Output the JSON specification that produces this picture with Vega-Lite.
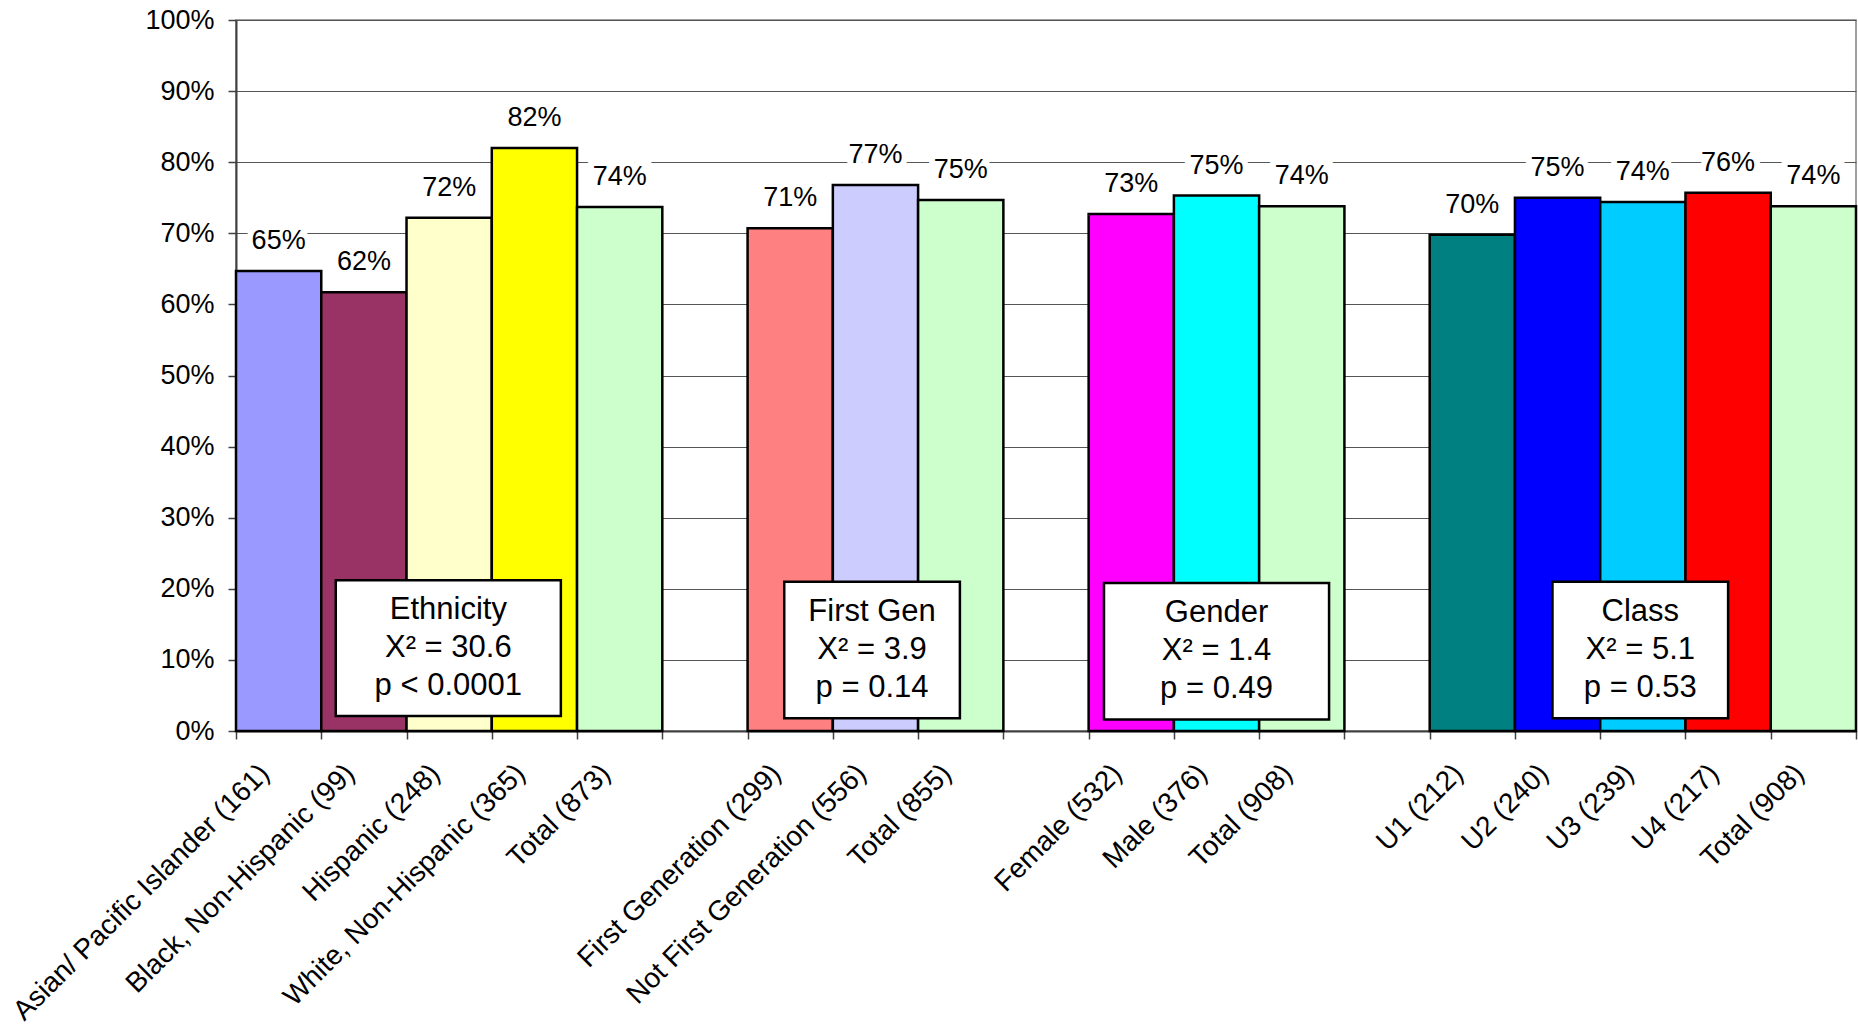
{
  "$schema": "https://vega.github.io/schema/vega-lite/v6.json",
  "width": 1620,
  "height": 711,
  "autosize": {"type": "none"},
  "padding": {"left": 236, "top": 20, "right": 2, "bottom": 295},
  "background": "white",
  "config": {"font": "Liberation Sans", "view": {"stroke": "#808080", "strokeWidth": 1.5}},
  "datasets": {
    "bars": [
      {"key": "Asian/ Pacific Islander (161)", "value": 0.647},
      {"key": "Black, Non-Hispanic (99)", "value": 0.617},
      {"key": "Hispanic (248)", "value": 0.722},
      {"key": "White, Non-Hispanic (365)", "value": 0.82},
      {"key": "Total (873)", "value": 0.737},
      {"key": "First Generation (299)", "value": 0.707},
      {"key": "Not First Generation (556)", "value": 0.768},
      {"key": "Total (855)", "value": 0.747},
      {"key": "Female (532)", "value": 0.727},
      {"key": "Male (376)", "value": 0.753},
      {"key": "Total (908)|g", "value": 0.738},
      {"key": "U1 (212)", "value": 0.698},
      {"key": "U2 (240)", "value": 0.75},
      {"key": "U3 (239)", "value": 0.744},
      {"key": "U4 (217)", "value": 0.757},
      {"key": "Total (908)|c", "value": 0.738}
    ],
    "boxes": [
      {"x1": 1.17, "x2": 3.81, "y1": 0.021, "y2": 0.212, "cx": 2.49, "cy": 0.1165, "label": "Ethnicity\nX² = 30.6\np < 0.0001"},
      {"x1": 6.43, "x2": 8.49, "y1": 0.018, "y2": 0.21, "cx": 7.46, "cy": 0.114, "label": "First Gen\nX² = 3.9\np = 0.14"},
      {"x1": 10.18, "x2": 12.82, "y1": 0.016, "y2": 0.208, "cx": 11.5, "cy": 0.112, "label": "Gender\nX² = 1.4\np = 0.49"},
      {"x1": 15.44, "x2": 17.5, "y1": 0.018, "y2": 0.21, "cx": 16.47, "cy": 0.114, "label": "Class\nX² = 5.1\np = 0.53"}
    ]
  },
  "layer": [
    {
      "data": {"name": "bars"},
      "encoding": {
        "x": {
          "field": "key",
          "type": "nominal",
          "sort": null,
          "scale": {
            "domain": ["Asian/ Pacific Islander (161)", "Black, Non-Hispanic (99)", "Hispanic (248)", "White, Non-Hispanic (365)", "Total (873)", "|1", "First Generation (299)", "Not First Generation (556)", "Total (855)", "|2", "Female (532)", "Male (376)", "Total (908)|g", "|3", "U1 (212)", "U2 (240)", "U3 (239)", "U4 (217)", "Total (908)|c"],
            "paddingInner": 0,
            "paddingOuter": 0
          },
          "axis": {
            "title": null,
            "labelAngle": -45,
            "labelAlign": "right",
            "labelBaseline": "middle",
            "labelFontSize": 28,
            "labelColor": "black",
            "labelPadding": 30,
            "labelOffset": -14,
            "labelLimit": 600,
            "labelOverlap": false,
            "tickBand": "extent",
            "ticks": true,
            "tickSize": 8,
            "tickColor": "#404040",
            "tickWidth": 1.5,
            "domainColor": "#404040",
            "domainWidth": 2,
            "grid": false,
            "labelExpr": "split(datum.label, '|')[0]"
          }
        },
        "y": {
          "field": "value",
          "type": "quantitative",
          "scale": {"domain": [0, 1]},
          "axis": {
            "title": null,
            "values": [0, 0.1, 0.2, 0.3, 0.4, 0.5, 0.6, 0.7, 0.8, 0.9, 1],
            "format": ".0%",
            "labelFontSize": 27,
            "labelColor": "black",
            "labelPadding": 14,
            "tickSize": 8,
            "tickColor": "#404040",
            "tickWidth": 1.5,
            "domainColor": "#404040",
            "domainWidth": 2,
            "grid": true,
            "gridColor": "#555555",
            "gridWidth": 1.2
          }
        }
      },
      "layer": [
        {
          "mark": {"type": "bar", "stroke": "black", "strokeWidth": 2.5},
          "encoding": {
            "color": {
              "field": "key",
              "type": "nominal",
              "legend": null,
              "scale": {
                "domain": ["Asian/ Pacific Islander (161)", "Black, Non-Hispanic (99)", "Hispanic (248)", "White, Non-Hispanic (365)", "Total (873)", "First Generation (299)", "Not First Generation (556)", "Total (855)", "Female (532)", "Male (376)", "Total (908)|g", "U1 (212)", "U2 (240)", "U3 (239)", "U4 (217)", "Total (908)|c"],
                "range": ["#9999FF", "#993366", "#FFFFCC", "#FFFF00", "#CCFFCC", "#FF8080", "#CCCCFF", "#CCFFCC", "#FF00FF", "#00FFFF", "#CCFFCC", "#008080", "#0000FF", "#00CCFF", "#FF0000", "#CCFFCC"]
              }
            }
          }
        },
        {
          "mark": {"type": "text", "dy": -30, "fontSize": 27, "baseline": "middle", "align": "center", "fill": "white", "stroke": "white", "strokeWidth": 12},
          "encoding": {"text": {"field": "value", "type": "quantitative", "format": ".0%"}}
        },
        {
          "mark": {"type": "text", "dy": -30, "fontSize": 27, "baseline": "middle", "align": "center", "fill": "black"},
          "encoding": {"text": {"field": "value", "type": "quantitative", "format": ".0%"}}
        }
      ]
    },
    {
      "data": {"name": "boxes"},
      "layer": [
        {
          "mark": {"type": "rect", "fill": "white", "stroke": "black", "strokeWidth": 2.5},
          "encoding": {
            "x": {"field": "x1", "type": "quantitative", "scale": {"domain": [0, 19]}, "axis": null},
            "x2": {"field": "x2"},
            "y": {"field": "y1", "type": "quantitative", "axis": {"title": null}},
            "y2": {"field": "y2"}
          }
        },
        {
          "mark": {"type": "text", "fontSize": 31, "lineBreak": "\n", "lineHeight": 38, "dy": -38, "align": "center", "baseline": "middle", "fill": "black"},
          "encoding": {
            "x": {"field": "cx", "type": "quantitative", "scale": {"domain": [0, 19]}, "axis": null},
            "y": {"field": "cy", "type": "quantitative", "axis": {"title": null}},
            "text": {"field": "label"}
          }
        }
      ]
    }
  ],
  "resolve": {"scale": {"x": "independent"}}
}
